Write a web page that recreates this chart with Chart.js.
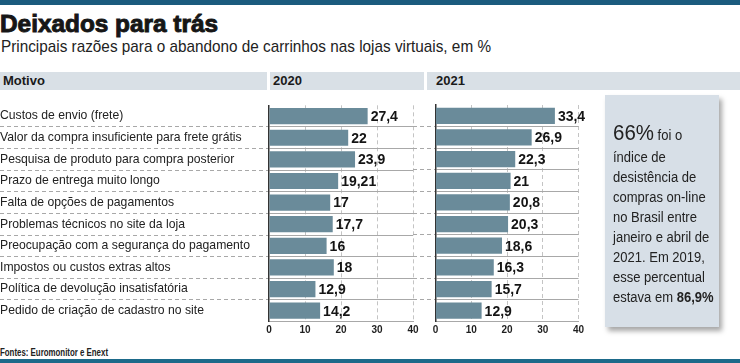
<!DOCTYPE html>
<html><head><meta charset="utf-8">
<script src="https://cdn.jsdelivr.net/npm/chart.js@4/dist/chart.umd.min.js"></script>
<style>
html,body{margin:0;padding:0;background:#fff;width:740px;height:363px;overflow:hidden;font-family:"Liberation Sans",Arial,sans-serif;}
#page{position:relative;width:740px;height:363px;}
.abs{position:absolute;white-space:nowrap;}
#topbar{left:0;top:0;width:740px;height:5px;background:#1b5b7e;}
#botbar{left:0;top:359px;width:740px;height:4px;background:#1d6a8a;}
#title{left:0;top:11px;font-size:23px;font-weight:900;color:#161616;line-height:26px;transform-origin:0 0;-webkit-text-stroke:0.9px #161616;}
#subtitle{left:1px;top:37px;font-size:17px;color:#222;line-height:20px;transform-origin:0 0;}
.hdr{top:72px;height:18px;background:#d9e0e6;}
.hdrtxt{top:72px;line-height:18px;font-size:13px;font-weight:bold;color:#1a1a1a;}
#box{left:605px;top:95px;width:114px;height:232px;background:#d7dfe7;box-shadow:3px 4px 5px rgba(0,0,0,0.35);}
#boxtext{left:613px;top:121px;font-size:14px;line-height:20px;color:#222;transform-origin:0 0;transform:scaleX(0.93);}
#boxtext .l1{line-height:24px;}
#boxtext .big{font-size:22px;}
#footer{left:0;top:347px;font-size:10px;font-weight:bold;line-height:12px;color:#222;transform-origin:0 0;}
#c1wrap{left:0;top:95px;width:425px;height:247px;}
#c2wrap{left:413px;top:95px;width:187px;height:247px;}
</style></head>
<body><div id="page">
<div id="topbar" class="abs"></div>
<div id="title" class="abs">Deixados para trás</div>
<div id="subtitle" class="abs">Principais razões para o abandono de carrinhos nas lojas virtuais, em %</div>
<div class="abs hdr" style="left:0;width:267px"></div>
<div class="abs hdr" style="left:270px;width:154px"></div>
<div class="abs hdr" style="left:427px;width:313px"></div>
<div class="abs hdrtxt" style="left:3px">Motivo</div>
<div class="abs hdrtxt" style="left:273px">2020</div>
<div class="abs hdrtxt" style="left:436px">2021</div>
<div id="c1wrap" class="abs"><canvas id="c1"></canvas></div>
<div id="c2wrap" class="abs"><canvas id="c2"></canvas></div>
<div id="box" class="abs"></div>
<div id="boxtext" class="abs"><div class="l1"><span class="big">66%</span> foi o</div>índice de<br>desistência de<br>compras on-line<br>no Brasil entre<br>janeiro e abril de<br>2021. Em 2019,<br>esse percentual<br>estava em <b>86,9%</b></div>
<div id="footer" class="abs">Fontes: Euromonitor e Enext</div>
<div id="botbar" class="abs"></div>
</div>
<script>
const categories = [
  "Custos de envio (frete)",
  "Valor da compra insuficiente para frete grátis",
  "Pesquisa de produto para compra posterior",
  "Prazo de entrega muito longo",
  "Falta de opções de pagamentos",
  "Problemas técnicos no site da loja",
  "Preocupação com a segurança do pagamento",
  "Impostos ou custos extras altos",
  "Política de devolução insatisfatória",
  "Pedido de criação de cadastro no site"
];
const values2020 = [27.4, 22, 23.9, 19.21, 17, 17.7, 16, 18, 12.9, 14.2];
const values2021 = [33.4, 26.9, 22.3, 21, 20.8, 20.3, 18.6, 16.3, 15.7, 12.9];
const xTicks = [0, 10, 20, 30, 40];

function fitWidth(id, target){
  const el = document.getElementById(id);
  const w = el.getBoundingClientRect().width;
  el.style.transform = 'scaleX(' + (target / w) + ')';
}
fitWidth('title', 218);
fitWidth('subtitle', 490);
fitWidth('footer', 108);

const FONT = '"Liberation Sans", Arial, sans-serif';
const SEP = '#a8a8a8';
const valueLabels = {
  id: 'valueLabels',
  afterDatasetsDraw(chart){
    const ctx = chart.ctx;
    const meta = chart.getDatasetMeta(0);
    const data = chart.data.datasets[0].data;
    ctx.save();
    ctx.font = 'bold 14px ' + FONT;
    ctx.fillStyle = '#141414';
    ctx.textBaseline = 'middle';
    ctx.textAlign = 'left';
    meta.data.forEach((bar, i) => {
      ctx.fillText(String(data[i]).replace('.', ','), bar.x + 3, bar.y + 1);
    });
    ctx.restore();
  }
};

function makeChart(id, values, axisWidth, showLabels, padRight){
  return new Chart(document.getElementById(id), {
    type: 'bar',
    data: { labels: categories, datasets: [{ data: values, backgroundColor: '#6a8b9a', barPercentage: 0.75, categoryPercentage: 1 }] },
    options: {
      indexAxis: 'y',
      responsive: true,
      maintainAspectRatio: false,
      animation: false,
      events: [],
      layout: { padding: { top: 10, right: padRight, left: 0, bottom: 0 } },
      plugins: { legend: { display: false }, tooltip: { enabled: false } },
      scales: {
        x: {
          min: 0, max: 40,
          afterBuildTicks: s => { s.ticks = xTicks.map(v => ({ value: v })); },
          afterFit: s => { s.height = 20.5; },
          ticks: { color: '#1e1e1e', font: { family: FONT, size: 10, weight: 'bold' }, padding: 3, maxRotation: 0 },
          grid: { drawTicks: false, color: c => (c.tick && c.tick.value === 0) ? 'rgba(0,0,0,0)' : '#c4c4c4', borderDash: [4, 2] },
          border: { display: true, color: SEP, dash: [4, 3], width: 1 }
        },
        y: {
          afterFit: s => { s.width = axisWidth; },
          ticks: { display: showLabels, crossAlign: 'far', color: '#222', font: { family: FONT, size: 12.2 } },
          grid: {
            offset: true, drawTicks: true, tickLength: axisWidth,
            color: c => (c.index === 0 || c.index === undefined) ? 'rgba(0,0,0,0)' : SEP,
            tickColor: c => (c.index === 0 || c.index === undefined) ? 'rgba(0,0,0,0)' : SEP,
            borderDash: [4, 3], tickBorderDash: [4, 3], lineWidth: 1
          },
          border: { display: true, color: '#333', width: 1.5 }
        }
      }
    },
    plugins: [valueLabels]
  });
}
makeChart('c1', values2020, 269, true, 12);
makeChart('c2', values2021, 22.5, false, 21.5);
</script>
</body></html>
